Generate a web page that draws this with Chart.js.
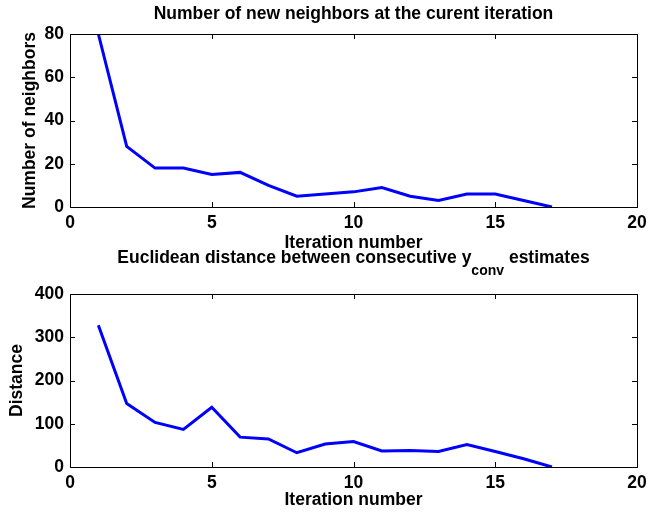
<!DOCTYPE html>
<html>
<head>
<meta charset="utf-8">
<script src="https://cdn.jsdelivr.net/npm/chart.js@4.4.0/dist/chart.umd.min.js"></script>
<style>
  body { margin: 0; background: #fff; }
  canvas { position: absolute; left: 0; }
  #neighborsChart { top: 0; }
  #distanceChart { top: 246px; }
</style>
</head>
<body>
<canvas id="neighborsChart" width="648" height="258"></canvas>
<canvas id="distanceChart" width="648" height="270"></canvas>
<script>
const iterations = [1, 2, 3, 4, 5, 6, 7, 8, 9, 10, 11, 12, 13, 14, 15, 16, 17];
const newNeighbors = [80, 28, 18, 18, 15, 16, 10, 5, 6, 7, 9, 5, 3, 6, 6, 3, 0];
const distances = [328, 147, 103, 87, 138, 69, 65, 33, 53, 59, 37, 38, 36, 52, 36, 19, 0];
const iterationTicks = [0, 5, 10, 15, 20];
const neighborTicks = [0, 20, 40, 60, 80];
const distanceTicks = [0, 100, 200, 300, 400];

const FONT = "'Liberation Sans', Arial, Helvetica, sans-serif";

// box around the axes with inward tick marks on all four sides, plus the title
const matlabAxes = {
  id: 'matlabAxes',
  afterDraw(chart, args, opts) {
    const ctx = chart.ctx;
    const area = chart.chartArea;
    const xs = chart.scales.x, ys = chart.scales.y;
    const tick = 5;
    ctx.save();
    ctx.strokeStyle = '#000';
    ctx.lineWidth = 1;
    ctx.strokeRect(Math.round(area.left) + 0.5, Math.round(area.top) + 0.5,
      Math.round(area.right - area.left), Math.round(area.bottom - area.top));
    ctx.beginPath();
    xs.ticks.forEach(t => {
      const px = Math.round(xs.getPixelForValue(t.value)) + 0.5;
      ctx.moveTo(px, area.bottom); ctx.lineTo(px, area.bottom - tick);
      ctx.moveTo(px, area.top); ctx.lineTo(px, area.top + tick);
    });
    ys.ticks.forEach(t => {
      const py = Math.round(ys.getPixelForValue(t.value)) + 0.5;
      ctx.moveTo(area.left, py); ctx.lineTo(area.left + tick, py);
      ctx.moveTo(area.right, py); ctx.lineTo(area.right - tick, py);
    });
    ctx.stroke();

    // title, with an optional subscript part
    ctx.fillStyle = '#000';
    ctx.textBaseline = 'alphabetic';
    ctx.textAlign = 'left';
    const parts = opts.parts || [];
    const fontFor = p => 'bold ' + (p.sub ? opts.subSize : opts.size) + 'px ' + FONT;
    let total = 0;
    parts.forEach(p => { ctx.font = fontFor(p); total += ctx.measureText(p.text).width; });
    let x = (area.left + area.right) / 2 - total / 2;
    parts.forEach(p => {
      ctx.font = fontFor(p);
      ctx.fillText(p.text, x, opts.baseline + (p.sub ? opts.subDrop : 0));
      x += ctx.measureText(p.text).width;
    });
    ctx.restore();
  }
};

function makeChart(id, values, yTicks, yLabel, cfg) {
  const ctx = document.getElementById(id).getContext('2d');
  return new Chart(ctx, {
    type: 'line',
    data: {
      datasets: [{
        data: iterations.map((it, i) => ({ x: it, y: values[i] })),
        borderColor: 'rgb(0, 0, 255)',
        borderWidth: 3,
        pointRadius: 0,
        tension: 0,
        fill: false
      }]
    },
    options: {
      responsive: false,
      animation: false,
      layout: { padding: { top: cfg.top, right: 11, left: 0, bottom: 0 } },
      plugins: {
        legend: { display: false },
        tooltip: { enabled: false },
        matlabAxes: cfg.title
      },
      scales: {
        x: {
          type: 'linear',
          min: 0, max: 20,
          afterBuildTicks: s => { s.ticks = iterationTicks.map(v => ({ value: v })); },
          afterFit: s => { s.height = cfg.xHeight; s.paddingLeft = 0; s.paddingRight = 0; },
          grid: { display: false, drawTicks: false },
          border: { display: false },
          ticks: { padding: 6, color: '#000', font: { family: FONT, size: 17.5, weight: 'bold' } },
          title: {
            display: true, text: 'Iteration number', color: '#000',
            padding: { top: 0, bottom: cfg.xTitlePad },
            font: { family: FONT, size: 17.5, weight: 'bold' }
          }
        },
        y: {
          type: 'linear',
          min: yTicks[0], max: yTicks[yTicks.length - 1],
          afterBuildTicks: s => { s.ticks = yTicks.map(v => ({ value: v })); },
          afterFit: s => { s.width = 70; s.paddingTop = 0; s.paddingBottom = 0; },
          grid: { display: false, drawTicks: false },
          border: { display: false },
          ticks: { padding: 6, color: '#000', font: { family: FONT, size: 17.5, weight: 'bold' } },
          title: {
            display: true, text: yLabel, color: '#000',
            padding: { top: cfg.yTitlePad, bottom: 0 },
            font: { family: FONT, size: 17.5, weight: 'bold' }
          }
        }
      }
    },
    plugins: [matlabAxes]
  });
}

makeChart('neighborsChart', newNeighbors, neighborTicks, 'Number of neighbors', {
  top: 34, xHeight: 51, xTitlePad: 4, yTitlePad: 19.5,
  title: { size: 17.5, subSize: 14, subDrop: 12, baseline: 19,
    parts: [{ text: 'Number of new neighbors at the curent iteration' }] }
});

makeChart('distanceChart', distances, distanceTicks, 'Distance', {
  top: 48, xHeight: 49, xTitlePad: 5, yTitlePad: 6.5,
  title: { size: 17.5, subSize: 14, subDrop: 12, baseline: 16.7,
    parts: [
      { text: 'Euclidean distance between consecutive y' },
      { text: 'conv', sub: true },
      { text: ' estimates' }
    ] }
});
</script>
</body>
</html>
